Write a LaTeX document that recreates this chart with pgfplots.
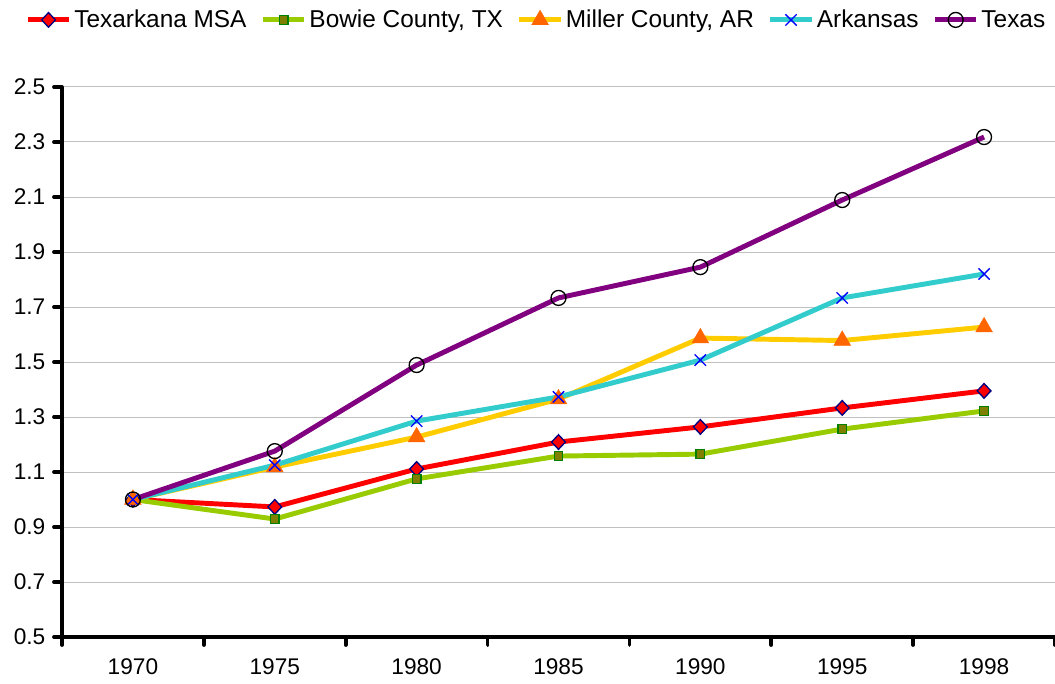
\documentclass[border=0pt]{standalone}
\usepackage{pgfplots}
\pgfplotsset{compat=1.18}
\usepackage{fontspec}
\setmainfont{Liberation Sans}
\definecolor{cTex}{HTML}{FF0000}
\definecolor{cBow}{HTML}{99CC00}
\definecolor{cMil}{HTML}{FFCC00}
\definecolor{cArk}{HTML}{33CCCC}
\definecolor{cTx}{HTML}{800080}
\definecolor{cNavy}{HTML}{000080}
\definecolor{cOlive}{HTML}{808000}
\definecolor{cGreen}{HTML}{008000}
\definecolor{cOrange}{HTML}{FF6600}
\definecolor{cGrid}{HTML}{C0C0C0}
\begin{document}
\begin{tikzpicture}
\path[use as bounding box] (0,0) rectangle (791.25pt,512.25pt);
\begin{axis}[
  at={(46.5pt,34.5pt)}, anchor=south west,
  scale only axis, width=744.75pt, height=412.5pt,
  xmin=-0.5, xmax=6.5, ymin=0.5, ymax=2.5,
  axis x line*=bottom, axis y line*=left,
  x axis line style={line width=3.4pt,-},
  y axis line style={line width=3.4pt,-},
  xtick={-0.5,0.5,1.5,2.5,3.5,4.5,5.5,6.5},
  x tick label as interval,
  xticklabels={1970,1975,1980,1985,1990,1995,1998},
  ytick={0.5,0.7,...,2.5},
  tick align=outside,
  major tick length=6pt,
  major tick style={black, line width=2.8pt, line cap=round},
  ymajorgrids, major grid style={cGrid, line width=0.75pt, line cap=butt},
  yticklabel style={/pgf/number format/fixed, /pgf/number format/fixed zerofill, /pgf/number format/precision=1, xshift=-3pt},
  /pgf/number format/assume math mode=true,
  xticklabel style={yshift=-7pt},
  tick label style={font=\fontsize{17}{20}\selectfont},
  legend columns=-1,
  legend style={draw=none, fill=none, at={(0.478,1.122)}, anchor=center,
    font=\fontsize{18.3}{22}\selectfont,
    /tikz/every even column/.append style={column sep=8.5pt},
    nodes={inner sep=2pt}},
  legend image code/.code={\draw[#1,mark repeat=2,mark phase=2] plot coordinates {(0pt,0pt) (15.5pt,0pt) (31pt,0pt)};},
  every axis plot/.append style={line width=3.7pt},
]
\addplot[cTex, mark=diamond*, mark size=5.5pt, mark options={solid, fill=red, draw=cNavy, line width=1pt, xscale=1.25}]
  coordinates {(0,1.0) (1,0.973) (2,1.111) (3,1.209) (4,1.264) (5,1.333) (6,1.395)};
\addlegendentry{Texarkana MSA}
\addplot[cBow, mark=square*, mark size=3.2pt, mark options={solid, fill=cOlive, draw=cGreen, line width=0.9pt}]
  coordinates {(0,1.0) (1,0.929) (2,1.075) (3,1.158) (4,1.165) (5,1.256) (6,1.322)};
\addlegendentry{Bowie County, TX}
\addplot[cMil, mark=triangle*, mark size=7.3pt, mark options={solid, fill=cOrange, draw=cOrange, line width=0.3pt}]
  coordinates {(0,1.0) (1,1.118) (2,1.227) (3,1.365) (4,1.587) (5,1.578) (6,1.627)};
\addlegendentry{Miller County, AR}
\addplot[cArk, mark=x, mark size=6pt, mark options={solid, draw=blue, line width=1pt}]
  coordinates {(0,1.0) (1,1.125) (2,1.285) (3,1.373) (4,1.507) (5,1.733) (6,1.82)};
\addlegendentry{Arkansas}
\addplot[cTx, mark=o, mark size=5.6pt, mark options={solid, draw=black, line width=1pt}]
  coordinates {(0,1.0) (1,1.176) (2,1.489) (3,1.733) (4,1.845) (5,2.089) (6,2.318)};
\addlegendentry{Texas}
\end{axis}
\end{tikzpicture}
\end{document}
